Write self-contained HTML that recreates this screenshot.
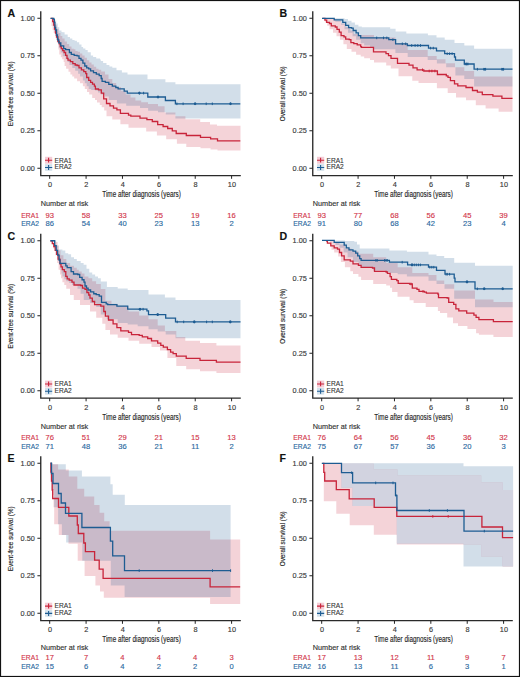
<!DOCTYPE html><html><head><meta charset="utf-8"><style>html,body{margin:0;padding:0;background:#fff;}svg{display:block;}text{font-family:"Liberation Sans", sans-serif;}</style></head><body>
<svg width="520" height="677" viewBox="0 0 520 677">
<rect x="0" y="0" width="520" height="677" fill="#fff"/>
<g transform="translate(0,0)">
<path d="M50.60 18.30H54.50 V25.00H56.70 V29.00H58.50 V33.10H60.50 V36.00H62.30 V38.50H64.60 V41.50H66.90 V44.00H69.20 V46.60H71.50 V48.80H73.80 V49.20H75.40 V50.90H77.70 V51.80H80.00 V53.50H82.30 V55.50H84.60 V57.70H86.90 V60.30H89.20 V62.40H91.50 V64.60H93.80 V66.70H96.20 V68.80H98.50 V69.70H101.20 V71.50H105.00 V74.50H108.50 V79.00H112.30 V83.00H116.20 V86.90H121.00 V90.80H125.80 V94.60H130.60 V97.50H135.40 V100.40H141.20 V102.30H148.00 V104.00H158.00 V106.20H164.60 V112.50H175.40 V116.20H185.40 V119.20H200.20 V122.00H210.00 V124.40H217.00 V125.80H240.50 V125.80L240.50 150.60L240.50 150.60L217.50 150.60L217.50 149.40L210.60 149.40L210.60 148.30L200.50 148.30L200.50 147.10L186.30 147.10L186.30 143.80L176.90 143.80L176.90 139.20L166.20 139.20L166.20 135.40L156.90 135.40L156.90 131.50L146.20 131.50L146.20 127.70L128.50 127.70L128.50 124.20L120.40 124.20L120.40 119.60L112.30 119.60L112.30 116.20L106.50 116.20L106.50 110.40L104.20 110.40L104.20 107.30L101.70 107.30L101.70 105.00L99.80 105.00L99.80 102.60L97.00 102.60L97.00 100.00L95.00 100.00L95.00 97.90L92.20 97.90L92.20 94.60L89.20 94.60L89.20 92.00L87.00 92.00L87.00 89.00L84.80 89.00L84.80 86.20L82.90 86.20L82.90 83.30L80.00 83.30L80.00 81.30L77.10 81.30L77.10 78.50L74.20 78.50L74.20 76.50L72.30 76.50L72.30 74.60L70.40 74.60L70.40 71.70L68.50 71.70L68.50 68.80L66.10 68.80L66.10 66.00L64.60 66.00L64.60 62.10L63.70 62.10L63.70 59.20L62.20 59.20L62.20 57.30L60.80 57.30L60.80 54.40L59.30 54.40L59.30 49.60L58.40 49.60L58.40 42.90L56.90 42.90L56.90 40.00L56.20 40.00L56.20 36.00L55.00 36.00L55.00 33.00L53.70 33.00L53.70 30.00L52.60 30.00L52.60 26.00L51.50 26.00L51.50 18.30L50.60 18.30Z" fill="#c8243a" fill-opacity="0.2" stroke="none"/>
<path d="M50.60 18.30H53.00 V19.50H54.60 V20.40H56.20 V23.50H57.70 V27.30H59.20 V30.40H61.50 V31.90H62.30 V32.30H64.60 V34.60H67.70 V36.90H70.00 V38.50H72.30 V40.00H74.60 V40.80H76.90 V42.30H79.20 V44.60H81.50 V46.90H83.10 V48.50H85.40 V50.00H87.70 V52.30H90.80 V55.40H93.10 V56.90H96.20 V58.50H100.00 V59.50H100.80 V61.00H103.10 V63.00H106.50 V65.00H109.40 V66.50H112.30 V67.70H116.50 V70.20H121.90 V72.50H127.50 V74.60H147.50 V79.20H165.40 V82.20H175.40 V84.20H240.50 V84.20L240.50 118.50L240.50 118.50L175.40 118.50L175.40 114.60L165.80 114.60L165.80 112.30L158.00 112.30L158.00 110.80L148.10 110.80L148.10 108.10L140.00 108.10L140.00 105.80L126.20 105.80L126.20 103.50L116.90 103.50L116.90 100.00L108.80 100.00L108.80 96.50L104.80 96.50L104.80 94.60L100.80 94.60L100.80 92.50L98.00 92.50L98.00 90.50L95.00 90.50L95.00 90.00L91.20 90.00L91.20 89.00L88.70 89.00L88.70 86.20L86.70 86.20L86.70 83.30L84.80 83.30L84.80 80.40L82.90 80.40L82.90 76.50L80.00 76.50L80.00 73.70L78.10 73.70L78.10 70.80L75.20 70.80L75.20 67.90L72.30 67.90L72.30 65.00L69.40 65.00L69.40 62.10L67.50 62.10L67.50 59.20L65.60 59.20L65.60 56.30L62.70 56.30L62.70 52.50L60.80 52.50L60.80 47.70L58.80 47.70L58.80 43.00L58.00 43.00L58.00 38.00L57.00 38.00L57.00 33.00L55.00 33.00L55.00 26.00L53.00 26.00L53.00 18.30L50.60 18.30Z" fill="#1d5c92" fill-opacity="0.2" stroke="none"/>
<path d="M50.60 18.30H52.70 V21.50H53.80 V25.00H54.60 V29.20H55.50 V33.00H56.50 V37.00H57.90 V41.40H59.30 V43.80H60.30 V46.70H61.25 V48.70H62.70 V50.60H64.10 V52.50H65.60 V55.40H67.00 V58.30H68.00 V60.20H70.40 V61.60H72.80 V63.60H75.20 V65.00H77.10 V65.50H79.00 V67.90H81.40 V69.80H83.80 V71.70H85.80 V73.70H86.70 V77.50H88.70 V80.40H90.60 V82.30H92.50 V84.20H94.40 V86.20H95.40 V89.00H98.50 V89.80H101.30 V93.10H103.70 V98.80H106.50 V103.50H110.00 V105.80H113.50 V108.10H116.90 V109.80H120.40 V113.30H128.50 V115.10H130.80 V116.20H140.00 V118.20H146.90 V119.70H152.30 V121.50H157.70 V124.60H163.10 V126.50H167.70 V128.50H172.30 V130.80H176.20 V133.50H186.30 V135.50H200.50 V137.40H210.60 V138.80H217.50 V140.90H240.30 V140.90" fill="none" stroke="#c8243a" stroke-width="1.3"/>
<path d="M50.60 18.30H53.75 V19.40H54.40 V22.50H54.90 V27.30H55.60 V30.00H56.50 V35.00H57.50 V39.00H57.90 V40.00H58.80 V42.90H60.80 V45.80H63.70 V48.70H65.60 V49.60H67.50 V49.60H69.40 V52.50H71.30 V54.40H74.20 V55.40H77.10 V55.90H79.00 V58.30H81.00 V60.20H82.90 V63.10H84.80 V66.00H86.70 V67.90H88.70 V68.80H90.60 V70.80H93.50 V72.70H96.30 V74.10H99.20 V75.60H101.20 V78.50H102.10 V81.30H105.40 V82.30H108.80 V84.40H112.30 V86.20H115.80 V87.50H118.10 V88.80H124.20 V91.20H127.30 V93.10H147.80 V97.00H165.40 V100.50H175.40 V103.80H240.30 V103.80" fill="none" stroke="#1d5c92" stroke-width="1.3"/>
<path d="M139.40 91.80V94.40" stroke="#1d5c92" stroke-width="1"/>
<path d="M143.60 91.80V94.40" stroke="#1d5c92" stroke-width="1"/>
<path d="M158.00 95.70V98.30" stroke="#1d5c92" stroke-width="1"/>
<path d="M176.90 102.50V105.10" stroke="#1d5c92" stroke-width="1"/>
<path d="M183.10 102.50V105.10" stroke="#1d5c92" stroke-width="1"/>
<path d="M195.10 102.50V105.10" stroke="#1d5c92" stroke-width="1"/>
<path d="M206.20 102.50V105.10" stroke="#1d5c92" stroke-width="1"/>
<path d="M212.30 102.50V105.10" stroke="#1d5c92" stroke-width="1"/>
<path d="M230.50 102.50V105.10" stroke="#1d5c92" stroke-width="1"/>
<circle cx="139.40" cy="93.10" r="1.3" fill="#1d5c92"/>
<circle cx="158.00" cy="97.00" r="1.3" fill="#1d5c92"/>
<circle cx="195.10" cy="103.80" r="1.3" fill="#1d5c92"/>
<circle cx="230.50" cy="103.80" r="1.3" fill="#1d5c92"/>
<path d="M40.75 11.2V175.6H240.8" fill="none" stroke="#2a2a2a" stroke-width="1.35"/>
<path d="M37.4 18.25H40.75" stroke="#222" stroke-width="1"/>
<text x="34.80" y="20.60" font-size="7.3" fill="#3a3a3a" stroke="#3a3a3a" stroke-width="0.14" text-anchor="end">1.00</text>
<path d="M37.4 55.75H40.75" stroke="#222" stroke-width="1"/>
<text x="34.80" y="58.10" font-size="7.3" fill="#3a3a3a" stroke="#3a3a3a" stroke-width="0.14" text-anchor="end">0.75</text>
<path d="M37.4 93.25H40.75" stroke="#222" stroke-width="1"/>
<text x="34.80" y="95.60" font-size="7.3" fill="#3a3a3a" stroke="#3a3a3a" stroke-width="0.14" text-anchor="end">0.50</text>
<path d="M37.4 130.75H40.75" stroke="#222" stroke-width="1"/>
<text x="34.80" y="133.10" font-size="7.3" fill="#3a3a3a" stroke="#3a3a3a" stroke-width="0.14" text-anchor="end">0.25</text>
<path d="M37.4 168.25H40.75" stroke="#222" stroke-width="1"/>
<text x="34.80" y="170.60" font-size="7.3" fill="#3a3a3a" stroke="#3a3a3a" stroke-width="0.14" text-anchor="end">0.00</text>
<path d="M49.70 175.5V178.8" stroke="#222" stroke-width="1"/>
<text x="50.00" y="187.20" font-size="7.3" fill="#3a3a3a" stroke="#3a3a3a" stroke-width="0.14" text-anchor="middle">0</text>
<path d="M86.08 175.5V178.8" stroke="#222" stroke-width="1"/>
<text x="86.38" y="187.20" font-size="7.3" fill="#3a3a3a" stroke="#3a3a3a" stroke-width="0.14" text-anchor="middle">2</text>
<path d="M122.46 175.5V178.8" stroke="#222" stroke-width="1"/>
<text x="122.76" y="187.20" font-size="7.3" fill="#3a3a3a" stroke="#3a3a3a" stroke-width="0.14" text-anchor="middle">4</text>
<path d="M158.84 175.5V178.8" stroke="#222" stroke-width="1"/>
<text x="159.14" y="187.20" font-size="7.3" fill="#3a3a3a" stroke="#3a3a3a" stroke-width="0.14" text-anchor="middle">6</text>
<path d="M195.22 175.5V178.8" stroke="#222" stroke-width="1"/>
<text x="195.52" y="187.20" font-size="7.3" fill="#3a3a3a" stroke="#3a3a3a" stroke-width="0.14" text-anchor="middle">8</text>
<path d="M231.60 175.5V178.8" stroke="#222" stroke-width="1"/>
<text x="231.90" y="187.20" font-size="7.3" fill="#3a3a3a" stroke="#3a3a3a" stroke-width="0.14" text-anchor="middle">10</text>
<text x="102.30" y="197.30" font-size="8.6" fill="#222" stroke="#222" stroke-width="0.14" textLength="78.6" lengthAdjust="spacingAndGlyphs">Time after diagnosis (years)</text>
<text x="0.00" y="0.00" font-size="7.9" fill="#222" stroke="#222" stroke-width="0.14" transform="translate(13.1,126.30) rotate(-90)" textLength="65.0" lengthAdjust="spacingAndGlyphs">Event-free survival (%)</text>
<text x="7.40" y="17.10" font-size="10.6" fill="#111" stroke="#111" stroke-width="0.14" font-weight="bold">A</text>
<g transform="translate(0,0.00)">
<rect x="45" y="156.8" width="7.2" height="6.9" fill="#f4cdd6"/>
<rect x="45" y="164.2" width="7.2" height="6.6" fill="#d3e1ec"/>
<path d="M45 160.2H52.2M48.6 157.7V162.5" stroke="#c8243a" stroke-width="1.1"/>
<path d="M45 167.5H52.2M48.6 165V170" stroke="#1d5c92" stroke-width="1.1"/>
<text x="54.50" y="162.50" font-size="7" fill="#333333" stroke="#333333" stroke-width="0.1" textLength="17.3" lengthAdjust="spacingAndGlyphs">ERA1</text>
<text x="54.50" y="169.00" font-size="7" fill="#333333" stroke="#333333" stroke-width="0.1" textLength="17.3" lengthAdjust="spacingAndGlyphs">ERA2</text>
</g>
<text x="40.80" y="206.00" font-size="7.3" fill="#333333" stroke="#333333" stroke-width="0.14">Number at risk</text>
<text x="21.30" y="217.50" font-size="7.6" fill="#d2364a" stroke="#d2364a" stroke-width="0.14" textLength="17.6" lengthAdjust="spacingAndGlyphs">ERA1</text>
<text x="21.30" y="226.20" font-size="7.6" fill="#2a69a0" stroke="#2a69a0" stroke-width="0.14" textLength="17.6" lengthAdjust="spacingAndGlyphs">ERA2</text>
<text x="49.70" y="217.50" font-size="7.6" fill="#d2364a" stroke="#d2364a" stroke-width="0.14" text-anchor="middle">93</text>
<text x="49.70" y="226.20" font-size="7.6" fill="#2a69a0" stroke="#2a69a0" stroke-width="0.14" text-anchor="middle">86</text>
<text x="86.08" y="217.50" font-size="7.6" fill="#d2364a" stroke="#d2364a" stroke-width="0.14" text-anchor="middle">58</text>
<text x="86.08" y="226.20" font-size="7.6" fill="#2a69a0" stroke="#2a69a0" stroke-width="0.14" text-anchor="middle">54</text>
<text x="122.46" y="217.50" font-size="7.6" fill="#d2364a" stroke="#d2364a" stroke-width="0.14" text-anchor="middle">33</text>
<text x="122.46" y="226.20" font-size="7.6" fill="#2a69a0" stroke="#2a69a0" stroke-width="0.14" text-anchor="middle">40</text>
<text x="158.84" y="217.50" font-size="7.6" fill="#d2364a" stroke="#d2364a" stroke-width="0.14" text-anchor="middle">25</text>
<text x="158.84" y="226.20" font-size="7.6" fill="#2a69a0" stroke="#2a69a0" stroke-width="0.14" text-anchor="middle">23</text>
<text x="195.22" y="217.50" font-size="7.6" fill="#d2364a" stroke="#d2364a" stroke-width="0.14" text-anchor="middle">19</text>
<text x="195.22" y="226.20" font-size="7.6" fill="#2a69a0" stroke="#2a69a0" stroke-width="0.14" text-anchor="middle">13</text>
<text x="231.60" y="217.50" font-size="7.6" fill="#d2364a" stroke="#d2364a" stroke-width="0.14" text-anchor="middle">16</text>
<text x="231.60" y="226.20" font-size="7.6" fill="#2a69a0" stroke="#2a69a0" stroke-width="0.14" text-anchor="middle">2</text>
</g>
<g transform="translate(272,0)">
<path d="M50.60 18.30H63.30 V20.70H69.10 V23.50H73.70 V27.00H78.30 V30.50H81.80 V33.90H86.40 V35.00H102.00 V37.50H123.40 V43.00H135.70 V50.00H155.70 V56.00H164.70 V59.30H173.50 V63.30H183.00 V67.30H192.30 V70.90H202.10 V76.60H240.50 V76.60L240.50 111.70L240.50 111.70L226.60 111.70L226.60 108.50L213.60 108.50L213.60 105.20L203.80 105.20L203.80 100.30L194.00 100.30L194.00 97.40L184.00 97.40L184.00 93.00L175.70 93.00L175.70 88.30L164.90 88.30L164.90 83.10L146.50 83.10L146.50 80.80L140.30 80.80L140.30 76.20L126.50 76.20L126.50 68.50L118.80 68.50L118.80 65.40L114.20 65.40L114.20 62.50L102.00 62.50L102.00 59.90L98.00 59.90L98.00 58.20L92.20 58.20L92.20 56.40L88.70 56.40L88.70 54.70L84.10 54.70L84.10 51.80L79.50 51.80L79.50 48.90L74.80 48.90L74.80 44.30L71.40 44.30L71.40 39.70L67.90 39.70L67.90 36.20L64.50 36.20L64.50 32.80L61.00 32.80L61.00 29.30L57.50 29.30L57.50 25.80L55.20 25.80L55.20 22.40L52.90 22.40L52.90 18.30L50.60 18.30Z" fill="#c8243a" fill-opacity="0.2" stroke="none"/>
<path d="M50.00 18.30H72.50 V18.90H76.00 V20.70H79.50 V22.40H82.90 V24.70H86.40 V26.40H89.80 V27.20H118.20 V28.70H123.60 V31.40H134.30 V33.50H155.90 V35.20H164.50 V37.40H172.70 V39.80H182.50 V43.10H192.30 V45.50H202.10 V48.80H240.50 V48.80L240.50 86.40L240.50 86.40L202.10 86.40L202.10 79.00L192.30 79.00L192.30 75.60L183.40 75.60L183.40 67.20L174.20 67.20L174.20 63.50L164.90 63.50L164.90 60.00L155.70 60.00L155.70 56.90L135.70 56.90L135.70 53.10L123.40 53.10L123.40 49.20L102.00 49.20L102.00 47.50L98.00 47.50L98.00 45.50L92.20 45.50L92.20 43.20L88.70 43.20L88.70 39.70L84.10 39.70L84.10 36.20L80.60 36.20L80.60 32.80L76.00 32.80L76.00 29.30L72.50 29.30L72.50 24.70L69.10 24.70L69.10 21.80L63.30 21.80L63.30 18.30L50.00 18.30Z" fill="#1d5c92" fill-opacity="0.2" stroke="none"/>
<path d="M50.60 18.30H52.90 V20.10H54.70 V22.40H57.50 V23.50H59.30 V25.80H63.30 V27.00H65.00 V29.30H67.30 V32.20H69.10 V35.70H72.00 V36.80H73.70 V39.10H77.20 V39.70H78.90 V42.60H81.80 V43.70H85.20 V44.90H88.70 V46.60H89.50 V47.40H101.50 V51.90H114.00 V53.60H116.50 V55.70H119.00 V58.30H125.50 V63.30H137.00 V65.10H141.00 V67.80H145.10 V69.80H151.80 V71.00H165.40 V74.50H174.30 V75.80H176.00 V77.40H178.40 V80.70H182.50 V83.90H185.80 V85.90H194.00 V87.50H200.50 V90.50H205.40 V92.10H210.30 V94.60H220.90 V96.20H229.90 V98.30H240.50 V98.30" fill="none" stroke="#c8243a" stroke-width="1.3"/>
<path d="M50.00 18.30H62.20 V19.80H70.80 V22.40H73.70 V25.30H76.60 V27.60H79.50 V28.20H81.20 V30.50H84.10 V32.80H86.40 V35.70H88.70 V37.90H116.80 V39.70H123.60 V43.80H135.40 V45.50H156.50 V48.10H164.50 V50.90H172.70 V53.70H182.50 V57.00H183.50 V60.20H192.30 V64.00H202.10 V69.20H240.50 V69.20" fill="none" stroke="#1d5c92" stroke-width="1.3"/>
<path d="M104.70 36.60V39.20" stroke="#1d5c92" stroke-width="1"/>
<path d="M111.50 36.60V39.20" stroke="#1d5c92" stroke-width="1"/>
<path d="M114.80 36.60V39.20" stroke="#1d5c92" stroke-width="1"/>
<path d="M120.90 38.40V41.00" stroke="#1d5c92" stroke-width="1"/>
<path d="M130.30 42.50V45.10" stroke="#1d5c92" stroke-width="1"/>
<path d="M133.70 42.50V45.10" stroke="#1d5c92" stroke-width="1"/>
<path d="M139.70 44.20V46.80" stroke="#1d5c92" stroke-width="1"/>
<path d="M143.10 44.20V46.80" stroke="#1d5c92" stroke-width="1"/>
<path d="M145.80 44.20V46.80" stroke="#1d5c92" stroke-width="1"/>
<path d="M148.50 44.20V46.80" stroke="#1d5c92" stroke-width="1"/>
<path d="M158.60 46.80V49.40" stroke="#1d5c92" stroke-width="1"/>
<path d="M161.30 46.80V49.40" stroke="#1d5c92" stroke-width="1"/>
<path d="M175.20 52.40V55.00" stroke="#1d5c92" stroke-width="1"/>
<path d="M177.60 52.40V55.00" stroke="#1d5c92" stroke-width="1"/>
<path d="M180.10 52.40V55.00" stroke="#1d5c92" stroke-width="1"/>
<path d="M193.10 62.70V65.30" stroke="#1d5c92" stroke-width="1"/>
<path d="M194.80 62.70V65.30" stroke="#1d5c92" stroke-width="1"/>
<path d="M196.00 62.70V65.30" stroke="#1d5c92" stroke-width="1"/>
<path d="M205.40 67.90V70.50" stroke="#1d5c92" stroke-width="1"/>
<path d="M211.90 67.90V70.50" stroke="#1d5c92" stroke-width="1"/>
<path d="M213.60 67.90V70.50" stroke="#1d5c92" stroke-width="1"/>
<path d="M229.90 67.90V70.50" stroke="#1d5c92" stroke-width="1"/>
<path d="M231.60 67.90V70.50" stroke="#1d5c92" stroke-width="1"/>
<circle cx="194.50" cy="64.00" r="1.3" fill="#1d5c92"/>
<circle cx="212.70" cy="69.20" r="1.3" fill="#1d5c92"/>
<circle cx="230.70" cy="69.20" r="1.3" fill="#1d5c92"/>
<path d="M150.50 68.50V71.10" stroke="#c8243a" stroke-width="1"/>
<path d="M157.20 69.70V72.30" stroke="#c8243a" stroke-width="1"/>
<path d="M159.90 69.70V72.30" stroke="#c8243a" stroke-width="1"/>
<path d="M162.90 69.70V72.30" stroke="#c8243a" stroke-width="1"/>
<path d="M40.75 11.2V175.6H240.8" fill="none" stroke="#2a2a2a" stroke-width="1.35"/>
<path d="M37.4 18.25H40.75" stroke="#222" stroke-width="1"/>
<text x="34.80" y="20.60" font-size="7.3" fill="#3a3a3a" stroke="#3a3a3a" stroke-width="0.14" text-anchor="end">1.00</text>
<path d="M37.4 55.75H40.75" stroke="#222" stroke-width="1"/>
<text x="34.80" y="58.10" font-size="7.3" fill="#3a3a3a" stroke="#3a3a3a" stroke-width="0.14" text-anchor="end">0.75</text>
<path d="M37.4 93.25H40.75" stroke="#222" stroke-width="1"/>
<text x="34.80" y="95.60" font-size="7.3" fill="#3a3a3a" stroke="#3a3a3a" stroke-width="0.14" text-anchor="end">0.50</text>
<path d="M37.4 130.75H40.75" stroke="#222" stroke-width="1"/>
<text x="34.80" y="133.10" font-size="7.3" fill="#3a3a3a" stroke="#3a3a3a" stroke-width="0.14" text-anchor="end">0.25</text>
<path d="M37.4 168.25H40.75" stroke="#222" stroke-width="1"/>
<text x="34.80" y="170.60" font-size="7.3" fill="#3a3a3a" stroke="#3a3a3a" stroke-width="0.14" text-anchor="end">0.00</text>
<path d="M49.70 175.5V178.8" stroke="#222" stroke-width="1"/>
<text x="50.00" y="187.20" font-size="7.3" fill="#3a3a3a" stroke="#3a3a3a" stroke-width="0.14" text-anchor="middle">0</text>
<path d="M86.08 175.5V178.8" stroke="#222" stroke-width="1"/>
<text x="86.38" y="187.20" font-size="7.3" fill="#3a3a3a" stroke="#3a3a3a" stroke-width="0.14" text-anchor="middle">2</text>
<path d="M122.46 175.5V178.8" stroke="#222" stroke-width="1"/>
<text x="122.76" y="187.20" font-size="7.3" fill="#3a3a3a" stroke="#3a3a3a" stroke-width="0.14" text-anchor="middle">4</text>
<path d="M158.84 175.5V178.8" stroke="#222" stroke-width="1"/>
<text x="159.14" y="187.20" font-size="7.3" fill="#3a3a3a" stroke="#3a3a3a" stroke-width="0.14" text-anchor="middle">6</text>
<path d="M195.22 175.5V178.8" stroke="#222" stroke-width="1"/>
<text x="195.52" y="187.20" font-size="7.3" fill="#3a3a3a" stroke="#3a3a3a" stroke-width="0.14" text-anchor="middle">8</text>
<path d="M231.60 175.5V178.8" stroke="#222" stroke-width="1"/>
<text x="231.90" y="187.20" font-size="7.3" fill="#3a3a3a" stroke="#3a3a3a" stroke-width="0.14" text-anchor="middle">10</text>
<text x="102.30" y="197.30" font-size="8.6" fill="#222" stroke="#222" stroke-width="0.14" textLength="78.6" lengthAdjust="spacingAndGlyphs">Time after diagnosis (years)</text>
<text x="0.00" y="0.00" font-size="7.9" fill="#222" stroke="#222" stroke-width="0.14" transform="translate(13.1,121.30) rotate(-90)" textLength="55.0" lengthAdjust="spacingAndGlyphs">Overall survival (%)</text>
<text x="7.40" y="17.10" font-size="10.6" fill="#111" stroke="#111" stroke-width="0.14" font-weight="bold">B</text>
<g transform="translate(0,0.00)">
<rect x="45" y="156.8" width="7.2" height="6.9" fill="#f4cdd6"/>
<rect x="45" y="164.2" width="7.2" height="6.6" fill="#d3e1ec"/>
<path d="M45 160.2H52.2M48.6 157.7V162.5" stroke="#c8243a" stroke-width="1.1"/>
<path d="M45 167.5H52.2M48.6 165V170" stroke="#1d5c92" stroke-width="1.1"/>
<text x="54.50" y="162.50" font-size="7" fill="#333333" stroke="#333333" stroke-width="0.1" textLength="17.3" lengthAdjust="spacingAndGlyphs">ERA1</text>
<text x="54.50" y="169.00" font-size="7" fill="#333333" stroke="#333333" stroke-width="0.1" textLength="17.3" lengthAdjust="spacingAndGlyphs">ERA2</text>
</g>
<text x="40.80" y="206.00" font-size="7.3" fill="#333333" stroke="#333333" stroke-width="0.14">Number at risk</text>
<text x="21.30" y="217.50" font-size="7.6" fill="#d2364a" stroke="#d2364a" stroke-width="0.14" textLength="17.6" lengthAdjust="spacingAndGlyphs">ERA1</text>
<text x="21.30" y="226.20" font-size="7.6" fill="#2a69a0" stroke="#2a69a0" stroke-width="0.14" textLength="17.6" lengthAdjust="spacingAndGlyphs">ERA2</text>
<text x="49.70" y="217.50" font-size="7.6" fill="#d2364a" stroke="#d2364a" stroke-width="0.14" text-anchor="middle">93</text>
<text x="49.70" y="226.20" font-size="7.6" fill="#2a69a0" stroke="#2a69a0" stroke-width="0.14" text-anchor="middle">91</text>
<text x="86.08" y="217.50" font-size="7.6" fill="#d2364a" stroke="#d2364a" stroke-width="0.14" text-anchor="middle">77</text>
<text x="86.08" y="226.20" font-size="7.6" fill="#2a69a0" stroke="#2a69a0" stroke-width="0.14" text-anchor="middle">80</text>
<text x="122.46" y="217.50" font-size="7.6" fill="#d2364a" stroke="#d2364a" stroke-width="0.14" text-anchor="middle">68</text>
<text x="122.46" y="226.20" font-size="7.6" fill="#2a69a0" stroke="#2a69a0" stroke-width="0.14" text-anchor="middle">68</text>
<text x="158.84" y="217.50" font-size="7.6" fill="#d2364a" stroke="#d2364a" stroke-width="0.14" text-anchor="middle">56</text>
<text x="158.84" y="226.20" font-size="7.6" fill="#2a69a0" stroke="#2a69a0" stroke-width="0.14" text-anchor="middle">42</text>
<text x="195.22" y="217.50" font-size="7.6" fill="#d2364a" stroke="#d2364a" stroke-width="0.14" text-anchor="middle">45</text>
<text x="195.22" y="226.20" font-size="7.6" fill="#2a69a0" stroke="#2a69a0" stroke-width="0.14" text-anchor="middle">23</text>
<text x="231.60" y="217.50" font-size="7.6" fill="#d2364a" stroke="#d2364a" stroke-width="0.14" text-anchor="middle">39</text>
<text x="231.60" y="226.20" font-size="7.6" fill="#2a69a0" stroke="#2a69a0" stroke-width="0.14" text-anchor="middle">4</text>
</g>
<g transform="translate(0,222.5)">
<path d="M50.60 18.25H55.00 V19.50H57.60 V23.10H58.60 V27.90H60.50 V32.70H63.40 V36.60H66.30 V40.40H70.10 V43.30H74.00 V45.20H76.80 V47.20H78.80 V49.10H81.70 V51.00H84.50 V53.90H88.40 V55.80H92.20 V58.70H96.10 V61.60H100.80 V66.50H105.40 V78.30H111.50 V81.30H117.70 V83.70H128.50 V89.00H139.20 V92.90H148.50 V96.70H157.70 V102.90H164.90 V108.40H176.30 V114.50H185.30 V118.20H200.00 V120.60H216.40 V123.10H240.50 V123.10L240.50 150.40L240.50 150.40L216.40 150.40L216.40 148.70L200.00 148.70L200.00 146.80L186.20 146.80L186.20 143.50L176.30 143.50L176.30 135.40L167.40 135.40L167.40 128.00L160.00 128.00L160.00 124.40L151.50 124.40L151.50 121.30L139.20 121.30L139.20 118.30L128.50 118.30L128.50 115.20L117.70 115.20L117.70 112.10L110.00 112.10L110.00 107.50L105.40 107.50L105.40 101.30L102.30 101.30L102.30 95.20L96.20 95.20L96.20 89.00L90.00 89.00L90.00 82.50L80.00 82.50L80.00 77.50L73.75 77.50L73.75 72.50L70.00 72.50L70.00 66.25L66.25 66.25L66.25 62.50L64.30 62.50L64.30 59.70L62.40 59.70L62.40 55.80L61.00 55.80L61.00 52.00L60.00 52.00L60.00 47.20L58.60 47.20L58.60 40.40L57.10 40.40L57.10 32.70L55.20 32.70L55.20 26.00L53.30 26.00L53.30 19.30L51.80 19.30L51.80 18.25L50.60 18.25Z" fill="#c8243a" fill-opacity="0.2" stroke="none"/>
<path d="M50.40 18.25H54.25 V18.25H56.20 V23.10H58.60 V27.00H62.40 V27.90H65.30 V30.80H68.20 V31.80H71.10 V34.70H74.00 V36.60H76.80 V38.50H80.70 V40.40H83.60 V42.30H86.50 V46.20H89.30 V50.00H92.20 V52.00H95.10 V53.90H98.00 V55.80H100.80 V59.00H106.90 V64.40H117.70 V66.00H127.70 V67.50H148.50 V72.10H164.90 V74.90H175.50 V77.60H240.50 V77.60L240.50 115.70L240.50 115.70L175.50 115.70L175.50 112.00L165.70 112.00L165.70 109.00L157.70 109.00L157.70 106.70L148.50 106.70L148.50 103.70L137.70 103.70L137.70 102.10L127.70 102.10L127.70 100.60L117.70 100.60L117.70 96.70L106.90 96.70L106.90 92.10L100.80 92.10L100.80 84.40L96.20 84.40L96.20 80.60L90.00 80.60L90.00 77.50L83.75 77.50L83.75 71.25L80.60 71.25L80.60 66.25L77.50 66.25L77.50 62.50L72.00 62.50L72.00 60.60L69.20 60.60L69.20 58.70L66.30 58.70L66.30 56.80L64.30 56.80L64.30 53.90L62.40 53.90L62.40 51.00L61.50 51.00L61.50 47.20L60.50 47.20L60.50 42.30L59.50 42.30L59.50 38.50L58.60 38.50L58.60 32.70L57.10 32.70L57.10 27.90L55.70 27.90L55.70 19.50L54.25 19.50L54.25 18.25L50.40 18.25Z" fill="#1d5c92" fill-opacity="0.2" stroke="none"/>
<path d="M50.60 18.25H50.90 V18.30H52.30 V21.20H53.80 V24.10H55.20 V27.90H56.70 V31.80H58.10 V36.60H60.00 V41.40H61.00 V44.30H62.40 V47.20H64.30 V49.10H65.80 V53.90H67.20 V56.30H69.20 V57.70H72.00 V59.70H74.00 V62.50H80.70 V63.00H82.50 V65.60H85.00 V66.90H86.90 V70.00H88.75 V72.50H90.00 V75.60H92.30 V79.00H94.60 V82.10H100.80 V83.70H103.80 V89.00H105.40 V93.70H108.50 V97.50H113.10 V101.30H116.90 V105.20H120.80 V108.30H128.50 V109.80H131.50 V112.10H139.20 V112.90H142.30 V114.40H147.70 V116.00H151.50 V118.30H157.70 V120.60H160.80 V122.90H163.30 V124.70H167.40 V127.20H170.60 V129.60H173.10 V131.20H176.30 V133.70H186.20 V135.80H200.00 V137.80H216.40 V139.70H240.50 V139.70" fill="none" stroke="#c8243a" stroke-width="1.3"/>
<path d="M50.40 18.25H54.25 V18.25H54.70 V23.10H56.20 V27.90H57.60 V32.70H59.10 V37.50H60.00 V40.90H65.30 V40.90H65.80 V43.30H67.20 V45.20H69.20 V45.20H71.10 V49.10H73.50 V51.50H77.80 V52.00H79.70 V54.80H82.10 V57.25H84.00 V59.70H85.00 V63.50H86.50 V65.60H88.10 V67.50H90.60 V69.40H93.75 V71.25H96.20 V72.10H99.20 V73.70H101.50 V79.80H106.20 V81.30H107.70 V82.10H116.90 V83.70H127.70 V86.70H146.90 V88.30H148.50 V92.10H165.70 V95.60H175.50 V99.40H240.50 V99.40" fill="none" stroke="#1d5c92" stroke-width="1.3"/>
<path d="M140.00 85.40V88.00" stroke="#1d5c92" stroke-width="1"/>
<path d="M143.10 85.40V88.00" stroke="#1d5c92" stroke-width="1"/>
<path d="M157.70 90.80V93.40" stroke="#1d5c92" stroke-width="1"/>
<path d="M177.20 98.10V100.70" stroke="#1d5c92" stroke-width="1"/>
<path d="M183.70 98.10V100.70" stroke="#1d5c92" stroke-width="1"/>
<path d="M194.30 98.10V100.70" stroke="#1d5c92" stroke-width="1"/>
<path d="M206.60 98.10V100.70" stroke="#1d5c92" stroke-width="1"/>
<path d="M212.30 98.10V100.70" stroke="#1d5c92" stroke-width="1"/>
<path d="M230.30 98.10V100.70" stroke="#1d5c92" stroke-width="1"/>
<circle cx="140.00" cy="86.70" r="1.3" fill="#1d5c92"/>
<circle cx="157.70" cy="92.10" r="1.3" fill="#1d5c92"/>
<circle cx="194.30" cy="99.40" r="1.3" fill="#1d5c92"/>
<circle cx="230.30" cy="99.40" r="1.3" fill="#1d5c92"/>
<path d="M40.75 11.2V175.6H240.8" fill="none" stroke="#2a2a2a" stroke-width="1.35"/>
<path d="M37.4 18.25H40.75" stroke="#222" stroke-width="1"/>
<text x="34.80" y="20.60" font-size="7.3" fill="#3a3a3a" stroke="#3a3a3a" stroke-width="0.14" text-anchor="end">1.00</text>
<path d="M37.4 55.75H40.75" stroke="#222" stroke-width="1"/>
<text x="34.80" y="58.10" font-size="7.3" fill="#3a3a3a" stroke="#3a3a3a" stroke-width="0.14" text-anchor="end">0.75</text>
<path d="M37.4 93.25H40.75" stroke="#222" stroke-width="1"/>
<text x="34.80" y="95.60" font-size="7.3" fill="#3a3a3a" stroke="#3a3a3a" stroke-width="0.14" text-anchor="end">0.50</text>
<path d="M37.4 130.75H40.75" stroke="#222" stroke-width="1"/>
<text x="34.80" y="133.10" font-size="7.3" fill="#3a3a3a" stroke="#3a3a3a" stroke-width="0.14" text-anchor="end">0.25</text>
<path d="M37.4 168.25H40.75" stroke="#222" stroke-width="1"/>
<text x="34.80" y="170.60" font-size="7.3" fill="#3a3a3a" stroke="#3a3a3a" stroke-width="0.14" text-anchor="end">0.00</text>
<path d="M49.70 175.5V178.8" stroke="#222" stroke-width="1"/>
<text x="50.00" y="187.20" font-size="7.3" fill="#3a3a3a" stroke="#3a3a3a" stroke-width="0.14" text-anchor="middle">0</text>
<path d="M86.08 175.5V178.8" stroke="#222" stroke-width="1"/>
<text x="86.38" y="187.20" font-size="7.3" fill="#3a3a3a" stroke="#3a3a3a" stroke-width="0.14" text-anchor="middle">2</text>
<path d="M122.46 175.5V178.8" stroke="#222" stroke-width="1"/>
<text x="122.76" y="187.20" font-size="7.3" fill="#3a3a3a" stroke="#3a3a3a" stroke-width="0.14" text-anchor="middle">4</text>
<path d="M158.84 175.5V178.8" stroke="#222" stroke-width="1"/>
<text x="159.14" y="187.20" font-size="7.3" fill="#3a3a3a" stroke="#3a3a3a" stroke-width="0.14" text-anchor="middle">6</text>
<path d="M195.22 175.5V178.8" stroke="#222" stroke-width="1"/>
<text x="195.52" y="187.20" font-size="7.3" fill="#3a3a3a" stroke="#3a3a3a" stroke-width="0.14" text-anchor="middle">8</text>
<path d="M231.60 175.5V178.8" stroke="#222" stroke-width="1"/>
<text x="231.90" y="187.20" font-size="7.3" fill="#3a3a3a" stroke="#3a3a3a" stroke-width="0.14" text-anchor="middle">10</text>
<text x="102.30" y="197.30" font-size="8.6" fill="#222" stroke="#222" stroke-width="0.14" textLength="78.6" lengthAdjust="spacingAndGlyphs">Time after diagnosis (years)</text>
<text x="0.00" y="0.00" font-size="7.9" fill="#222" stroke="#222" stroke-width="0.14" transform="translate(13.1,126.30) rotate(-90)" textLength="65.0" lengthAdjust="spacingAndGlyphs">Event-free survival (%)</text>
<text x="7.40" y="17.10" font-size="10.6" fill="#111" stroke="#111" stroke-width="0.14" font-weight="bold">C</text>
<g transform="translate(0,1.30)">
<rect x="45" y="156.8" width="7.2" height="6.9" fill="#f4cdd6"/>
<rect x="45" y="164.2" width="7.2" height="6.6" fill="#d3e1ec"/>
<path d="M45 160.2H52.2M48.6 157.7V162.5" stroke="#c8243a" stroke-width="1.1"/>
<path d="M45 167.5H52.2M48.6 165V170" stroke="#1d5c92" stroke-width="1.1"/>
<text x="54.50" y="162.50" font-size="7" fill="#333333" stroke="#333333" stroke-width="0.1" textLength="17.3" lengthAdjust="spacingAndGlyphs">ERA1</text>
<text x="54.50" y="169.00" font-size="7" fill="#333333" stroke="#333333" stroke-width="0.1" textLength="17.3" lengthAdjust="spacingAndGlyphs">ERA2</text>
</g>
<text x="40.80" y="206.00" font-size="7.3" fill="#333333" stroke="#333333" stroke-width="0.14">Number at risk</text>
<text x="21.30" y="217.50" font-size="7.6" fill="#d2364a" stroke="#d2364a" stroke-width="0.14" textLength="17.6" lengthAdjust="spacingAndGlyphs">ERA1</text>
<text x="21.30" y="226.20" font-size="7.6" fill="#2a69a0" stroke="#2a69a0" stroke-width="0.14" textLength="17.6" lengthAdjust="spacingAndGlyphs">ERA2</text>
<text x="49.70" y="217.50" font-size="7.6" fill="#d2364a" stroke="#d2364a" stroke-width="0.14" text-anchor="middle">76</text>
<text x="49.70" y="226.20" font-size="7.6" fill="#2a69a0" stroke="#2a69a0" stroke-width="0.14" text-anchor="middle">71</text>
<text x="86.08" y="217.50" font-size="7.6" fill="#d2364a" stroke="#d2364a" stroke-width="0.14" text-anchor="middle">51</text>
<text x="86.08" y="226.20" font-size="7.6" fill="#2a69a0" stroke="#2a69a0" stroke-width="0.14" text-anchor="middle">48</text>
<text x="122.46" y="217.50" font-size="7.6" fill="#d2364a" stroke="#d2364a" stroke-width="0.14" text-anchor="middle">29</text>
<text x="122.46" y="226.20" font-size="7.6" fill="#2a69a0" stroke="#2a69a0" stroke-width="0.14" text-anchor="middle">36</text>
<text x="158.84" y="217.50" font-size="7.6" fill="#d2364a" stroke="#d2364a" stroke-width="0.14" text-anchor="middle">21</text>
<text x="158.84" y="226.20" font-size="7.6" fill="#2a69a0" stroke="#2a69a0" stroke-width="0.14" text-anchor="middle">21</text>
<text x="195.22" y="217.50" font-size="7.6" fill="#d2364a" stroke="#d2364a" stroke-width="0.14" text-anchor="middle">15</text>
<text x="195.22" y="226.20" font-size="7.6" fill="#2a69a0" stroke="#2a69a0" stroke-width="0.14" text-anchor="middle">11</text>
<text x="231.60" y="217.50" font-size="7.6" fill="#d2364a" stroke="#d2364a" stroke-width="0.14" text-anchor="middle">13</text>
<text x="231.60" y="226.20" font-size="7.6" fill="#2a69a0" stroke="#2a69a0" stroke-width="0.14" text-anchor="middle">2</text>
</g>
<g transform="translate(272,222.5)">
<path d="M54.10 18.50H62.20 V19.90H67.50 V21.90H72.90 V26.00H79.60 V28.70H86.40 V31.30H101.20 V34.80H114.20 V40.60H125.70 V44.80H140.30 V50.50H156.50 V52.50H164.50 V57.90H172.20 V61.70H182.20 V67.90H203.00 V77.10H221.50 V79.40H240.70 V79.40L240.70 114.40L240.70 114.40L221.40 114.40L221.40 112.20L206.90 112.20L206.90 110.80L204.10 110.80L204.10 106.40L195.40 106.40L195.40 103.60L186.00 103.60L186.00 100.70L181.00 100.70L181.00 94.90L175.20 94.90L175.20 90.60L168.00 90.60L168.00 88.50L165.90 88.50L165.90 84.40L153.70 84.40L153.70 80.40L141.60 80.40L141.60 77.70L137.60 77.70L137.60 74.30L125.50 74.30L125.50 69.60L120.10 69.60L120.10 65.20L118.00 65.20L118.00 62.90L114.20 62.90L114.20 61.50L101.20 61.50L101.20 57.60L89.10 57.60L89.10 54.20L86.40 54.20L86.40 51.50L81.00 51.50L81.00 48.80L78.30 48.80L78.30 44.80L72.90 44.80L72.90 39.40L68.90 39.40L68.90 34.00L66.20 34.00L66.20 30.00L62.20 30.00L62.20 27.30L59.50 27.30L59.50 23.30L58.10 23.30L58.10 18.50L54.10 18.50Z" fill="#c8243a" fill-opacity="0.2" stroke="none"/>
<path d="M50.00 17.90H72.90 V18.50H82.30 V19.20H85.00 V21.90H87.70 V25.90H117.40 V27.90H134.90 V29.20H156.50 V31.90H164.50 V33.50H172.20 V35.60H182.20 V40.20H203.00 V43.30H240.70 V43.30L240.70 84.80L240.70 84.80L203.00 84.80L203.00 76.20L182.20 76.20L182.20 66.30L172.50 66.30L172.50 61.50L164.50 61.50L164.50 58.20L156.50 58.20L156.50 54.00L134.90 54.00L134.90 51.70L125.70 51.70L125.70 50.50L118.00 50.50L118.00 49.50L113.40 49.50L113.40 48.10L101.20 48.10L101.20 44.80L89.10 44.80L89.10 42.80L86.40 42.80L86.40 39.40L81.00 39.40L81.00 34.70L75.60 34.70L75.60 30.00L71.60 30.00L71.60 25.30L67.50 25.30L67.50 22.60L63.50 22.60L63.50 19.90L62.00 19.90L62.00 17.90L50.00 17.90Z" fill="#1d5c92" fill-opacity="0.2" stroke="none"/>
<path d="M54.10 18.50H55.40 V20.60H58.80 V23.30H62.20 V25.30H65.50 V26.60H67.50 V30.00H69.60 V33.40H72.20 V37.40H78.30 V38.70H81.00 V41.40H86.40 V42.80H89.10 V44.80H100.50 V45.50H102.50 V48.80H114.10 V49.50H115.40 V50.80H118.10 V54.10H119.40 V56.80H124.80 V58.20H126.20 V60.90H137.60 V61.50H140.30 V65.60H145.00 V66.90H147.00 V68.90H152.40 V69.60H154.40 V70.70H165.90 V71.70H166.50 V75.10H175.20 V75.50H176.70 V79.80H181.70 V81.90H183.90 V86.30H186.80 V88.40H194.70 V90.60H201.90 V92.70H204.10 V94.90H206.90 V97.10H221.40 V99.10H240.70 V99.10" fill="none" stroke="#c8243a" stroke-width="1.3"/>
<path d="M50.00 17.90H62.20 V19.90H72.20 V22.60H74.30 V25.30H77.00 V27.30H81.00 V28.70H83.70 V30.70H85.70 V33.40H87.70 V36.10H89.10 V37.90H117.40 V39.70H135.60 V42.40H156.50 V44.70H164.50 V47.90H173.00 V51.70H182.20 V55.60H183.00 V59.40H203.00 V66.30H240.70 V66.30" fill="none" stroke="#1d5c92" stroke-width="1.3"/>
<path d="M103.90 36.60V39.20" stroke="#1d5c92" stroke-width="1"/>
<path d="M105.20 36.60V39.20" stroke="#1d5c92" stroke-width="1"/>
<path d="M112.60 36.60V39.20" stroke="#1d5c92" stroke-width="1"/>
<path d="M114.10 36.60V39.20" stroke="#1d5c92" stroke-width="1"/>
<path d="M115.30 36.60V39.20" stroke="#1d5c92" stroke-width="1"/>
<path d="M130.20 38.40V41.00" stroke="#1d5c92" stroke-width="1"/>
<path d="M140.00 41.10V43.70" stroke="#1d5c92" stroke-width="1"/>
<path d="M142.30 41.10V43.70" stroke="#1d5c92" stroke-width="1"/>
<path d="M144.30 41.10V43.70" stroke="#1d5c92" stroke-width="1"/>
<path d="M146.40 41.10V43.70" stroke="#1d5c92" stroke-width="1"/>
<path d="M148.40 41.10V43.70" stroke="#1d5c92" stroke-width="1"/>
<path d="M157.80 43.40V46.00" stroke="#1d5c92" stroke-width="1"/>
<path d="M159.80 43.40V46.00" stroke="#1d5c92" stroke-width="1"/>
<path d="M161.80 43.40V46.00" stroke="#1d5c92" stroke-width="1"/>
<path d="M174.00 50.40V53.00" stroke="#1d5c92" stroke-width="1"/>
<path d="M175.30 50.40V53.00" stroke="#1d5c92" stroke-width="1"/>
<path d="M177.60 50.40V53.00" stroke="#1d5c92" stroke-width="1"/>
<path d="M195.00 58.10V60.70" stroke="#1d5c92" stroke-width="1"/>
<path d="M205.30 65.00V67.60" stroke="#1d5c92" stroke-width="1"/>
<path d="M212.20 65.00V67.60" stroke="#1d5c92" stroke-width="1"/>
<path d="M230.70 65.00V67.60" stroke="#1d5c92" stroke-width="1"/>
<circle cx="140.00" cy="42.40" r="1.3" fill="#1d5c92"/>
<circle cx="195.00" cy="59.40" r="1.3" fill="#1d5c92"/>
<circle cx="212.20" cy="66.30" r="1.3" fill="#1d5c92"/>
<circle cx="230.70" cy="66.30" r="1.3" fill="#1d5c92"/>
<path d="M139.00 60.20V62.80" stroke="#c8243a" stroke-width="1"/>
<path d="M151.00 67.60V70.20" stroke="#c8243a" stroke-width="1"/>
<path d="M40.75 11.2V175.6H240.8" fill="none" stroke="#2a2a2a" stroke-width="1.35"/>
<path d="M37.4 18.25H40.75" stroke="#222" stroke-width="1"/>
<text x="34.80" y="20.60" font-size="7.3" fill="#3a3a3a" stroke="#3a3a3a" stroke-width="0.14" text-anchor="end">1.00</text>
<path d="M37.4 55.75H40.75" stroke="#222" stroke-width="1"/>
<text x="34.80" y="58.10" font-size="7.3" fill="#3a3a3a" stroke="#3a3a3a" stroke-width="0.14" text-anchor="end">0.75</text>
<path d="M37.4 93.25H40.75" stroke="#222" stroke-width="1"/>
<text x="34.80" y="95.60" font-size="7.3" fill="#3a3a3a" stroke="#3a3a3a" stroke-width="0.14" text-anchor="end">0.50</text>
<path d="M37.4 130.75H40.75" stroke="#222" stroke-width="1"/>
<text x="34.80" y="133.10" font-size="7.3" fill="#3a3a3a" stroke="#3a3a3a" stroke-width="0.14" text-anchor="end">0.25</text>
<path d="M37.4 168.25H40.75" stroke="#222" stroke-width="1"/>
<text x="34.80" y="170.60" font-size="7.3" fill="#3a3a3a" stroke="#3a3a3a" stroke-width="0.14" text-anchor="end">0.00</text>
<path d="M49.70 175.5V178.8" stroke="#222" stroke-width="1"/>
<text x="50.00" y="187.20" font-size="7.3" fill="#3a3a3a" stroke="#3a3a3a" stroke-width="0.14" text-anchor="middle">0</text>
<path d="M86.08 175.5V178.8" stroke="#222" stroke-width="1"/>
<text x="86.38" y="187.20" font-size="7.3" fill="#3a3a3a" stroke="#3a3a3a" stroke-width="0.14" text-anchor="middle">2</text>
<path d="M122.46 175.5V178.8" stroke="#222" stroke-width="1"/>
<text x="122.76" y="187.20" font-size="7.3" fill="#3a3a3a" stroke="#3a3a3a" stroke-width="0.14" text-anchor="middle">4</text>
<path d="M158.84 175.5V178.8" stroke="#222" stroke-width="1"/>
<text x="159.14" y="187.20" font-size="7.3" fill="#3a3a3a" stroke="#3a3a3a" stroke-width="0.14" text-anchor="middle">6</text>
<path d="M195.22 175.5V178.8" stroke="#222" stroke-width="1"/>
<text x="195.52" y="187.20" font-size="7.3" fill="#3a3a3a" stroke="#3a3a3a" stroke-width="0.14" text-anchor="middle">8</text>
<path d="M231.60 175.5V178.8" stroke="#222" stroke-width="1"/>
<text x="231.90" y="187.20" font-size="7.3" fill="#3a3a3a" stroke="#3a3a3a" stroke-width="0.14" text-anchor="middle">10</text>
<text x="102.30" y="197.30" font-size="8.6" fill="#222" stroke="#222" stroke-width="0.14" textLength="78.6" lengthAdjust="spacingAndGlyphs">Time after diagnosis (years)</text>
<text x="0.00" y="0.00" font-size="7.9" fill="#222" stroke="#222" stroke-width="0.14" transform="translate(13.1,121.30) rotate(-90)" textLength="55.0" lengthAdjust="spacingAndGlyphs">Overall survival (%)</text>
<text x="7.40" y="17.10" font-size="10.6" fill="#111" stroke="#111" stroke-width="0.14" font-weight="bold">D</text>
<g transform="translate(0,1.30)">
<rect x="45" y="156.8" width="7.2" height="6.9" fill="#f4cdd6"/>
<rect x="45" y="164.2" width="7.2" height="6.6" fill="#d3e1ec"/>
<path d="M45 160.2H52.2M48.6 157.7V162.5" stroke="#c8243a" stroke-width="1.1"/>
<path d="M45 167.5H52.2M48.6 165V170" stroke="#1d5c92" stroke-width="1.1"/>
<text x="54.50" y="162.50" font-size="7" fill="#333333" stroke="#333333" stroke-width="0.1" textLength="17.3" lengthAdjust="spacingAndGlyphs">ERA1</text>
<text x="54.50" y="169.00" font-size="7" fill="#333333" stroke="#333333" stroke-width="0.1" textLength="17.3" lengthAdjust="spacingAndGlyphs">ERA2</text>
</g>
<text x="40.80" y="206.00" font-size="7.3" fill="#333333" stroke="#333333" stroke-width="0.14">Number at risk</text>
<text x="21.30" y="217.50" font-size="7.6" fill="#d2364a" stroke="#d2364a" stroke-width="0.14" textLength="17.6" lengthAdjust="spacingAndGlyphs">ERA1</text>
<text x="21.30" y="226.20" font-size="7.6" fill="#2a69a0" stroke="#2a69a0" stroke-width="0.14" textLength="17.6" lengthAdjust="spacingAndGlyphs">ERA2</text>
<text x="49.70" y="217.50" font-size="7.6" fill="#d2364a" stroke="#d2364a" stroke-width="0.14" text-anchor="middle">76</text>
<text x="49.70" y="226.20" font-size="7.6" fill="#2a69a0" stroke="#2a69a0" stroke-width="0.14" text-anchor="middle">75</text>
<text x="86.08" y="217.50" font-size="7.6" fill="#d2364a" stroke="#d2364a" stroke-width="0.14" text-anchor="middle">64</text>
<text x="86.08" y="226.20" font-size="7.6" fill="#2a69a0" stroke="#2a69a0" stroke-width="0.14" text-anchor="middle">67</text>
<text x="122.46" y="217.50" font-size="7.6" fill="#d2364a" stroke="#d2364a" stroke-width="0.14" text-anchor="middle">56</text>
<text x="122.46" y="226.20" font-size="7.6" fill="#2a69a0" stroke="#2a69a0" stroke-width="0.14" text-anchor="middle">57</text>
<text x="158.84" y="217.50" font-size="7.6" fill="#d2364a" stroke="#d2364a" stroke-width="0.14" text-anchor="middle">45</text>
<text x="158.84" y="226.20" font-size="7.6" fill="#2a69a0" stroke="#2a69a0" stroke-width="0.14" text-anchor="middle">36</text>
<text x="195.22" y="217.50" font-size="7.6" fill="#d2364a" stroke="#d2364a" stroke-width="0.14" text-anchor="middle">36</text>
<text x="195.22" y="226.20" font-size="7.6" fill="#2a69a0" stroke="#2a69a0" stroke-width="0.14" text-anchor="middle">20</text>
<text x="231.60" y="217.50" font-size="7.6" fill="#d2364a" stroke="#d2364a" stroke-width="0.14" text-anchor="middle">32</text>
<text x="231.60" y="226.20" font-size="7.6" fill="#2a69a0" stroke="#2a69a0" stroke-width="0.14" text-anchor="middle">3</text>
</g>
<g transform="translate(0,445)">
<path d="M50.60 18.20H52.70 V19.20H58.10 V24.60H68.80 V31.50H77.30 V43.80H84.20 V51.50H94.20 V60.00H99.60 V67.70H104.20 V76.20H109.60 V85.70H210.10 V94.60H240.20 V94.60L240.20 159.00L240.20 159.00L210.10 159.00L210.10 152.70L103.80 152.70L103.80 146.50L100.00 146.50L100.00 140.40L95.40 140.40L95.40 131.00L84.60 131.00L84.60 115.80L77.70 115.80L77.70 98.80L68.50 98.80L68.50 90.00L58.80 90.00L58.80 79.20L54.20 79.20L54.20 62.30L53.50 62.30L53.50 50.00L52.00 50.00L52.00 35.00L50.80 35.00L50.80 18.20L50.60 18.20Z" fill="#c8243a" fill-opacity="0.2" stroke="none"/>
<path d="M50.40 18.20H50.60 V19.20H65.80 V25.40H81.90 V31.50H110.40 V39.20H112.70 V49.80H124.80 V60.00H230.60 V60.00L230.60 152.00L230.60 152.00L124.60 152.00L124.60 140.40L110.80 140.40L110.80 115.80L82.30 115.80L82.30 97.50L66.20 97.50L66.20 90.00L61.90 90.00L61.90 79.20L58.10 79.20L58.10 62.30L54.20 62.30L54.20 45.00L51.50 45.00L51.50 30.00L50.80 30.00L50.80 18.20L50.40 18.20Z" fill="#1d5c92" fill-opacity="0.2" stroke="none"/>
<path d="M50.60 18.20H50.90 V27.00H51.50 V36.00H52.20 V45.00H52.70 V53.50H58.50 V62.30H68.80 V71.00H77.30 V80.00H78.30 V88.50H83.80 V98.00H85.40 V106.70H94.60 V115.20H99.20 V124.20H103.10 V133.30H210.10 V141.80H240.20 V141.80" fill="none" stroke="#c8243a" stroke-width="1.3"/>
<path d="M50.40 18.20H51.50 V28.50H53.00 V38.50H58.50 V48.50H61.20 V58.00H65.50 V68.30H81.90 V82.50H110.40 V96.20H112.70 V110.90H124.50 V125.60H230.60 V125.60" fill="none" stroke="#1d5c92" stroke-width="1.3"/>
<path d="M139.20 124.30V126.90" stroke="#1d5c92" stroke-width="1"/>
<path d="M212.50 124.30V126.90" stroke="#1d5c92" stroke-width="1"/>
<path d="M230.60 124.30V126.90" stroke="#1d5c92" stroke-width="1"/>
<path d="M40.75 11.2V175.6H240.8" fill="none" stroke="#2a2a2a" stroke-width="1.35"/>
<path d="M37.4 18.25H40.75" stroke="#222" stroke-width="1"/>
<text x="34.80" y="20.60" font-size="7.3" fill="#3a3a3a" stroke="#3a3a3a" stroke-width="0.14" text-anchor="end">1.00</text>
<path d="M37.4 55.75H40.75" stroke="#222" stroke-width="1"/>
<text x="34.80" y="58.10" font-size="7.3" fill="#3a3a3a" stroke="#3a3a3a" stroke-width="0.14" text-anchor="end">0.75</text>
<path d="M37.4 93.25H40.75" stroke="#222" stroke-width="1"/>
<text x="34.80" y="95.60" font-size="7.3" fill="#3a3a3a" stroke="#3a3a3a" stroke-width="0.14" text-anchor="end">0.50</text>
<path d="M37.4 130.75H40.75" stroke="#222" stroke-width="1"/>
<text x="34.80" y="133.10" font-size="7.3" fill="#3a3a3a" stroke="#3a3a3a" stroke-width="0.14" text-anchor="end">0.25</text>
<path d="M37.4 168.25H40.75" stroke="#222" stroke-width="1"/>
<text x="34.80" y="170.60" font-size="7.3" fill="#3a3a3a" stroke="#3a3a3a" stroke-width="0.14" text-anchor="end">0.00</text>
<path d="M49.70 175.5V178.8" stroke="#222" stroke-width="1"/>
<text x="50.00" y="187.20" font-size="7.3" fill="#3a3a3a" stroke="#3a3a3a" stroke-width="0.14" text-anchor="middle">0</text>
<path d="M86.08 175.5V178.8" stroke="#222" stroke-width="1"/>
<text x="86.38" y="187.20" font-size="7.3" fill="#3a3a3a" stroke="#3a3a3a" stroke-width="0.14" text-anchor="middle">2</text>
<path d="M122.46 175.5V178.8" stroke="#222" stroke-width="1"/>
<text x="122.76" y="187.20" font-size="7.3" fill="#3a3a3a" stroke="#3a3a3a" stroke-width="0.14" text-anchor="middle">4</text>
<path d="M158.84 175.5V178.8" stroke="#222" stroke-width="1"/>
<text x="159.14" y="187.20" font-size="7.3" fill="#3a3a3a" stroke="#3a3a3a" stroke-width="0.14" text-anchor="middle">6</text>
<path d="M195.22 175.5V178.8" stroke="#222" stroke-width="1"/>
<text x="195.52" y="187.20" font-size="7.3" fill="#3a3a3a" stroke="#3a3a3a" stroke-width="0.14" text-anchor="middle">8</text>
<path d="M231.60 175.5V178.8" stroke="#222" stroke-width="1"/>
<text x="231.90" y="187.20" font-size="7.3" fill="#3a3a3a" stroke="#3a3a3a" stroke-width="0.14" text-anchor="middle">10</text>
<text x="102.30" y="197.30" font-size="8.6" fill="#222" stroke="#222" stroke-width="0.14" textLength="78.6" lengthAdjust="spacingAndGlyphs">Time after diagnosis (years)</text>
<text x="0.00" y="0.00" font-size="7.9" fill="#222" stroke="#222" stroke-width="0.14" transform="translate(13.1,126.30) rotate(-90)" textLength="65.0" lengthAdjust="spacingAndGlyphs">Event-free survival (%)</text>
<text x="7.40" y="17.10" font-size="10.6" fill="#111" stroke="#111" stroke-width="0.14" font-weight="bold">E</text>
<g transform="translate(0,0.90)">
<rect x="45" y="156.8" width="7.2" height="6.9" fill="#f4cdd6"/>
<rect x="45" y="164.2" width="7.2" height="6.6" fill="#d3e1ec"/>
<path d="M45 160.2H52.2M48.6 157.7V162.5" stroke="#c8243a" stroke-width="1.1"/>
<path d="M45 167.5H52.2M48.6 165V170" stroke="#1d5c92" stroke-width="1.1"/>
<text x="54.50" y="162.50" font-size="7" fill="#333333" stroke="#333333" stroke-width="0.1" textLength="17.3" lengthAdjust="spacingAndGlyphs">ERA1</text>
<text x="54.50" y="169.00" font-size="7" fill="#333333" stroke="#333333" stroke-width="0.1" textLength="17.3" lengthAdjust="spacingAndGlyphs">ERA2</text>
</g>
<text x="40.80" y="205.40" font-size="7.3" fill="#333333" stroke="#333333" stroke-width="0.14">Number at risk</text>
<text x="21.30" y="214.80" font-size="7.6" fill="#d2364a" stroke="#d2364a" stroke-width="0.14" textLength="17.6" lengthAdjust="spacingAndGlyphs">ERA1</text>
<text x="21.30" y="223.80" font-size="7.6" fill="#2a69a0" stroke="#2a69a0" stroke-width="0.14" textLength="17.6" lengthAdjust="spacingAndGlyphs">ERA2</text>
<text x="49.70" y="214.80" font-size="7.6" fill="#d2364a" stroke="#d2364a" stroke-width="0.14" text-anchor="middle">17</text>
<text x="49.70" y="223.80" font-size="7.6" fill="#2a69a0" stroke="#2a69a0" stroke-width="0.14" text-anchor="middle">15</text>
<text x="86.08" y="214.80" font-size="7.6" fill="#d2364a" stroke="#d2364a" stroke-width="0.14" text-anchor="middle">7</text>
<text x="86.08" y="223.80" font-size="7.6" fill="#2a69a0" stroke="#2a69a0" stroke-width="0.14" text-anchor="middle">6</text>
<text x="122.46" y="214.80" font-size="7.6" fill="#d2364a" stroke="#d2364a" stroke-width="0.14" text-anchor="middle">4</text>
<text x="122.46" y="223.80" font-size="7.6" fill="#2a69a0" stroke="#2a69a0" stroke-width="0.14" text-anchor="middle">4</text>
<text x="158.84" y="214.80" font-size="7.6" fill="#d2364a" stroke="#d2364a" stroke-width="0.14" text-anchor="middle">4</text>
<text x="158.84" y="223.80" font-size="7.6" fill="#2a69a0" stroke="#2a69a0" stroke-width="0.14" text-anchor="middle">2</text>
<text x="195.22" y="214.80" font-size="7.6" fill="#d2364a" stroke="#d2364a" stroke-width="0.14" text-anchor="middle">4</text>
<text x="195.22" y="223.80" font-size="7.6" fill="#2a69a0" stroke="#2a69a0" stroke-width="0.14" text-anchor="middle">2</text>
<text x="231.60" y="214.80" font-size="7.6" fill="#d2364a" stroke="#d2364a" stroke-width="0.14" text-anchor="middle">3</text>
<text x="231.60" y="223.80" font-size="7.6" fill="#2a69a0" stroke="#2a69a0" stroke-width="0.14" text-anchor="middle">0</text>
</g>
<g transform="translate(272,445)">
<path d="M50.50 18.30H69.10 V18.70H101.80 V24.40H125.40 V30.50H209.20 V37.20H230.50 V45.00H241.10 V45.00L241.10 121.50L241.10 121.50L230.50 121.50L230.50 111.60L209.20 111.60L209.20 99.60L124.80 99.60L124.80 89.80L101.80 89.80L101.80 80.20L77.70 80.20L77.70 68.70L64.30 68.70L64.30 56.20L51.80 56.20L51.80 18.30L50.50 18.30Z" fill="#c8243a" fill-opacity="0.2" stroke="none"/>
<path d="M49.80 18.30H191.50 V21.30H241.10 V21.30L241.10 121.50L241.10 121.50L191.50 121.50L191.50 98.60L124.80 98.60L124.80 62.30L101.80 62.30L101.80 61.00L80.60 61.00L80.60 42.70L69.50 42.70L69.50 18.30L49.80 18.30Z" fill="#1d5c92" fill-opacity="0.2" stroke="none"/>
<clipPath id="clipF"><path d="M49.80 18.30H191.50 V21.30H241.10 V21.30L241.10 121.50L241.10 121.50L191.50 121.50L191.50 98.60L124.80 98.60L124.80 62.30L101.80 62.30L101.80 61.00L80.60 61.00L80.60 42.70L69.50 42.70L69.50 18.30L49.80 18.30Z"/></clipPath>
<path d="M50.50 18.30H69.10 V18.70H101.80 V24.40H125.40 V30.50H209.20 V37.20H230.50 V45.00H241.10 V45.00L241.10 121.50L241.10 121.50L230.50 121.50L230.50 111.60L209.20 111.60L209.20 99.60L124.80 99.60L124.80 89.80L101.80 89.80L101.80 80.20L77.70 80.20L77.70 68.70L64.30 68.70L64.30 56.20L51.80 56.20L51.80 18.30L50.50 18.30Z" fill="#d2d3e0" clip-path="url(#clipF)"/>
<path d="M50.50 18.30H51.80 V27.30H52.70 V36.00H64.30 V44.60H77.20 V53.80H102.20 V62.30H124.80 V71.40H209.90 V82.00H230.50 V92.70H241.10 V92.70" fill="none" stroke="#c8243a" stroke-width="1.3"/>
<path d="M49.80 18.30H69.50 V27.70H80.60 V37.90H123.50 V50.40H124.90 V65.50H192.00 V86.10H241.10 V86.10" fill="none" stroke="#1d5c92" stroke-width="1.3"/>
<path d="M79.70 26.40V29.00" stroke="#1d5c92" stroke-width="1"/>
<path d="M103.70 36.60V39.20" stroke="#1d5c92" stroke-width="1"/>
<path d="M121.00 36.60V39.20" stroke="#1d5c92" stroke-width="1"/>
<path d="M123.90 49.10V51.70" stroke="#1d5c92" stroke-width="1"/>
<path d="M157.30 64.20V66.80" stroke="#1d5c92" stroke-width="1"/>
<path d="M175.40 64.20V66.80" stroke="#1d5c92" stroke-width="1"/>
<path d="M212.30 84.80V87.40" stroke="#1d5c92" stroke-width="1"/>
<path d="M160.80 70.10V72.70" stroke="#c8243a" stroke-width="1"/>
<path d="M176.20 70.10V72.70" stroke="#c8243a" stroke-width="1"/>
<path d="M40.75 11.2V175.6H240.8" fill="none" stroke="#2a2a2a" stroke-width="1.35"/>
<path d="M37.4 18.25H40.75" stroke="#222" stroke-width="1"/>
<text x="34.80" y="20.60" font-size="7.3" fill="#3a3a3a" stroke="#3a3a3a" stroke-width="0.14" text-anchor="end">1.00</text>
<path d="M37.4 55.75H40.75" stroke="#222" stroke-width="1"/>
<text x="34.80" y="58.10" font-size="7.3" fill="#3a3a3a" stroke="#3a3a3a" stroke-width="0.14" text-anchor="end">0.75</text>
<path d="M37.4 93.25H40.75" stroke="#222" stroke-width="1"/>
<text x="34.80" y="95.60" font-size="7.3" fill="#3a3a3a" stroke="#3a3a3a" stroke-width="0.14" text-anchor="end">0.50</text>
<path d="M37.4 130.75H40.75" stroke="#222" stroke-width="1"/>
<text x="34.80" y="133.10" font-size="7.3" fill="#3a3a3a" stroke="#3a3a3a" stroke-width="0.14" text-anchor="end">0.25</text>
<path d="M37.4 168.25H40.75" stroke="#222" stroke-width="1"/>
<text x="34.80" y="170.60" font-size="7.3" fill="#3a3a3a" stroke="#3a3a3a" stroke-width="0.14" text-anchor="end">0.00</text>
<path d="M49.70 175.5V178.8" stroke="#222" stroke-width="1"/>
<text x="50.00" y="187.20" font-size="7.3" fill="#3a3a3a" stroke="#3a3a3a" stroke-width="0.14" text-anchor="middle">0</text>
<path d="M86.08 175.5V178.8" stroke="#222" stroke-width="1"/>
<text x="86.38" y="187.20" font-size="7.3" fill="#3a3a3a" stroke="#3a3a3a" stroke-width="0.14" text-anchor="middle">2</text>
<path d="M122.46 175.5V178.8" stroke="#222" stroke-width="1"/>
<text x="122.76" y="187.20" font-size="7.3" fill="#3a3a3a" stroke="#3a3a3a" stroke-width="0.14" text-anchor="middle">4</text>
<path d="M158.84 175.5V178.8" stroke="#222" stroke-width="1"/>
<text x="159.14" y="187.20" font-size="7.3" fill="#3a3a3a" stroke="#3a3a3a" stroke-width="0.14" text-anchor="middle">6</text>
<path d="M195.22 175.5V178.8" stroke="#222" stroke-width="1"/>
<text x="195.52" y="187.20" font-size="7.3" fill="#3a3a3a" stroke="#3a3a3a" stroke-width="0.14" text-anchor="middle">8</text>
<path d="M231.60 175.5V178.8" stroke="#222" stroke-width="1"/>
<text x="231.90" y="187.20" font-size="7.3" fill="#3a3a3a" stroke="#3a3a3a" stroke-width="0.14" text-anchor="middle">10</text>
<text x="102.30" y="197.30" font-size="8.6" fill="#222" stroke="#222" stroke-width="0.14" textLength="78.6" lengthAdjust="spacingAndGlyphs">Time after diagnosis (years)</text>
<text x="0.00" y="0.00" font-size="7.9" fill="#222" stroke="#222" stroke-width="0.14" transform="translate(13.1,121.30) rotate(-90)" textLength="55.0" lengthAdjust="spacingAndGlyphs">Overall survival (%)</text>
<text x="7.40" y="17.10" font-size="10.6" fill="#111" stroke="#111" stroke-width="0.14" font-weight="bold">F</text>
<g transform="translate(0,0.90)">
<rect x="45" y="156.8" width="7.2" height="6.9" fill="#f4cdd6"/>
<rect x="45" y="164.2" width="7.2" height="6.6" fill="#d3e1ec"/>
<path d="M45 160.2H52.2M48.6 157.7V162.5" stroke="#c8243a" stroke-width="1.1"/>
<path d="M45 167.5H52.2M48.6 165V170" stroke="#1d5c92" stroke-width="1.1"/>
<text x="54.50" y="162.50" font-size="7" fill="#333333" stroke="#333333" stroke-width="0.1" textLength="17.3" lengthAdjust="spacingAndGlyphs">ERA1</text>
<text x="54.50" y="169.00" font-size="7" fill="#333333" stroke="#333333" stroke-width="0.1" textLength="17.3" lengthAdjust="spacingAndGlyphs">ERA2</text>
</g>
<text x="40.80" y="205.40" font-size="7.3" fill="#333333" stroke="#333333" stroke-width="0.14">Number at risk</text>
<text x="21.30" y="214.80" font-size="7.6" fill="#d2364a" stroke="#d2364a" stroke-width="0.14" textLength="17.6" lengthAdjust="spacingAndGlyphs">ERA1</text>
<text x="21.30" y="223.80" font-size="7.6" fill="#2a69a0" stroke="#2a69a0" stroke-width="0.14" textLength="17.6" lengthAdjust="spacingAndGlyphs">ERA2</text>
<text x="49.70" y="214.80" font-size="7.6" fill="#d2364a" stroke="#d2364a" stroke-width="0.14" text-anchor="middle">17</text>
<text x="49.70" y="223.80" font-size="7.6" fill="#2a69a0" stroke="#2a69a0" stroke-width="0.14" text-anchor="middle">16</text>
<text x="86.08" y="214.80" font-size="7.6" fill="#d2364a" stroke="#d2364a" stroke-width="0.14" text-anchor="middle">13</text>
<text x="86.08" y="223.80" font-size="7.6" fill="#2a69a0" stroke="#2a69a0" stroke-width="0.14" text-anchor="middle">13</text>
<text x="122.46" y="214.80" font-size="7.6" fill="#d2364a" stroke="#d2364a" stroke-width="0.14" text-anchor="middle">12</text>
<text x="122.46" y="223.80" font-size="7.6" fill="#2a69a0" stroke="#2a69a0" stroke-width="0.14" text-anchor="middle">11</text>
<text x="158.84" y="214.80" font-size="7.6" fill="#d2364a" stroke="#d2364a" stroke-width="0.14" text-anchor="middle">11</text>
<text x="158.84" y="223.80" font-size="7.6" fill="#2a69a0" stroke="#2a69a0" stroke-width="0.14" text-anchor="middle">6</text>
<text x="195.22" y="214.80" font-size="7.6" fill="#d2364a" stroke="#d2364a" stroke-width="0.14" text-anchor="middle">9</text>
<text x="195.22" y="223.80" font-size="7.6" fill="#2a69a0" stroke="#2a69a0" stroke-width="0.14" text-anchor="middle">3</text>
<text x="231.60" y="214.80" font-size="7.6" fill="#d2364a" stroke="#d2364a" stroke-width="0.14" text-anchor="middle">7</text>
<text x="231.60" y="223.80" font-size="7.6" fill="#2a69a0" stroke="#2a69a0" stroke-width="0.14" text-anchor="middle">1</text>
</g>
<rect x="0.5" y="0.5" width="519" height="676" fill="none" stroke="#111" stroke-width="1.2"/>
</svg></body></html>
